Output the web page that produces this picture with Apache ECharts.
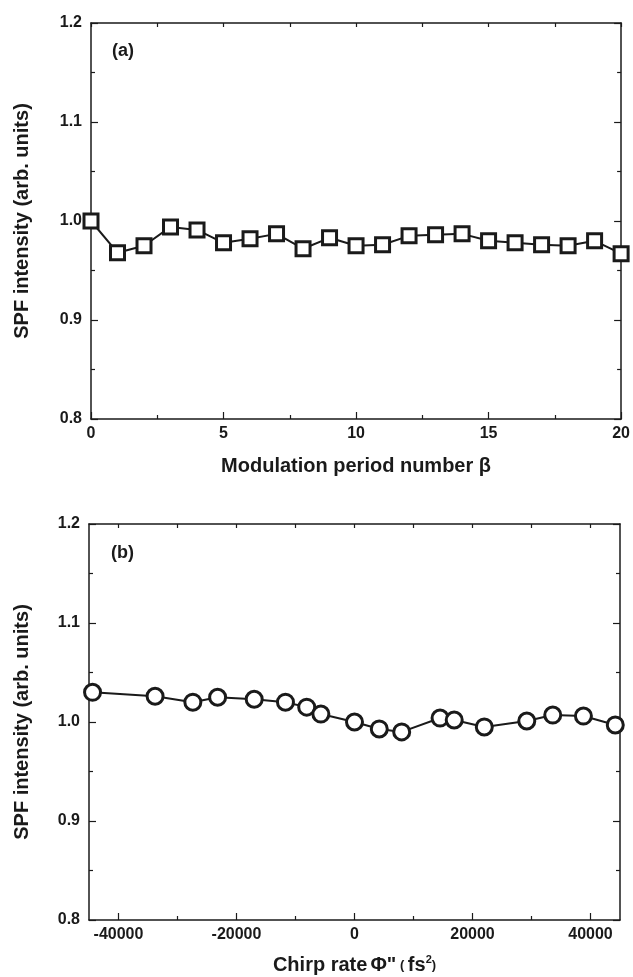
<!DOCTYPE html>
<html>
<head>
<meta charset="utf-8">
<script src="https://cdn.jsdelivr.net/npm/echarts@6/dist/echarts.min.js"></script>
<style>
  html, body { margin: 0; padding: 0; background: #fff; }
  #main { width: 633px; height: 977px; }
</style>
</head>
<body>
<div id="main"></div>
<script>
// panel (a): SPF vs modulation period number
const betaValues = [0, 1, 2, 3, 4, 5, 6, 7, 8, 9, 10, 11, 12, 13, 14, 15, 16, 17, 18, 19, 20];
const spfBeta = [1.000, 0.968, 0.975, 0.994, 0.991, 0.978, 0.982, 0.987, 0.972, 0.983, 0.975,
  0.976, 0.985, 0.986, 0.987, 0.980, 0.978, 0.976, 0.975, 0.980, 0.967];

// panel (b): SPF vs chirp rate
const chirpRates = [-44400, -33800, -27400, -23200, -17000, -11700, -8100, -5700, 0, 4200, 8000,
  14500, 16900, 22000, 29200, 33600, 38800, 44200];
const spfChirp = [1.030, 1.026, 1.020, 1.025, 1.023, 1.020, 1.015, 1.008, 1.000, 0.993, 0.990,
  1.004, 1.002, 0.995, 1.001, 1.007, 1.006, 0.997];

const chirpTicks = [-40000, -20000, 0, 20000, 40000];
const chirpMinorTicks = [-30000, -10000, 10000, 30000];

const FONT = 'Liberation Sans, Arial, sans-serif';
const INK = '#1a1a1a';

const chart = echarts.init(document.getElementById('main'));

function frameLine() {
  return { show: true, onZero: false, lineStyle: { color: INK, width: 1.5 } };
}
function labelStyle() {
  return { color: INK, fontFamily: FONT, fontWeight: 'bold', fontSize: 16 };
}
function titleStyle(size) {
  return { color: INK, fontFamily: FONT, fontWeight: 'bold', fontSize: size };
}
function yAxisFor(gridIndex, pos, gap) {
  return {
    type: 'value', gridIndex: gridIndex, position: pos,
    min: 0.8, max: 1.2, interval: 0.1,
    name: pos === 'left' ? 'SPF intensity (arb. units)' : '',
    nameLocation: 'middle', nameGap: gap,
    nameTextStyle: titleStyle(20),
    axisLine: frameLine(),
    axisTick: { show: true, inside: true, length: 7, lineStyle: { color: INK, width: 1.2 } },
    minorTick: { show: true, splitNumber: 2, length: 4, lineStyle: { color: INK, width: 1.2 } },
    axisLabel: Object.assign({ show: pos === 'left', margin: 9, formatter: v => v.toFixed(1) }, labelStyle()),
    splitLine: { show: false }
  };
}

const chirpName = '{t|Chirp rate}{p|Φ"}{s| ( }{t|fs}{sup|2}{s|)}';

chart.setOption({
  animation: false,
  backgroundColor: '#fff',
  title: [
    { text: '(a)', left: 107, top: 37, textStyle: titleStyle(18) },
    { text: '(b)', left: 106, top: 539, textStyle: titleStyle(18) }
  ],
  grid: [
    { left: 91, right: 11, top: 23, height: 396 },
    { left: 89, right: 13, top: 524, height: 396 }
  ],
  xAxis: [
    {
      type: 'value', gridIndex: 0, position: 'bottom',
      min: 0, max: 20, interval: 5,
      name: 'Modulation period number β', nameLocation: 'middle', nameGap: 37,
      nameTextStyle: titleStyle(20),
      axisLine: frameLine(),
      axisTick: { show: true, inside: true, length: 7, lineStyle: { color: INK, width: 1.2 } },
      minorTick: { show: true, splitNumber: 2, length: 4, lineStyle: { color: INK, width: 1.2 } },
      axisLabel: Object.assign({ margin: 7 }, labelStyle()),
      splitLine: { show: false }
    },
    {
      type: 'value', gridIndex: 0, position: 'top',
      min: 0, max: 20, interval: 5,
      axisLine: frameLine(),
      axisTick: { show: true, inside: true, length: 4, lineStyle: { color: INK, width: 1.2 } },
      minorTick: { show: true, splitNumber: 2, length: 4, lineStyle: { color: INK, width: 1.2 } },
      axisLabel: { show: false },
      splitLine: { show: false }
    },
    {
      type: 'value', gridIndex: 1, position: 'bottom',
      min: -45000, max: 45000,
      name: chirpName, nameLocation: 'middle', nameGap: 34,
      nameTextStyle: {
        color: INK, fontFamily: FONT, fontWeight: 'bold', fontSize: 20,
        rich: {
          t: titleStyle(20),
          p: Object.assign(titleStyle(20), { padding: [0, 0, 0, 3] }),
          s: titleStyle(13),
          sup: Object.assign(titleStyle(11), { verticalAlign: 'bottom', padding: [0, 0, 12, 0] })
        }
      },
      axisLine: frameLine(),
      axisTick: { show: true, inside: true, length: 7, customValues: chirpTicks, lineStyle: { color: INK, width: 1.2 } },
      axisLabel: Object.assign({ margin: 7, customValues: chirpTicks, formatter: v => String(v) }, labelStyle()),
      splitLine: { show: false }
    },
    {
      type: 'value', gridIndex: 1, position: 'top',
      min: -45000, max: 45000,
      axisLine: frameLine(),
      axisTick: { show: true, inside: true, length: 4, customValues: chirpTicks.concat(chirpMinorTicks), lineStyle: { color: INK, width: 1.2 } },
      axisLabel: { show: false },
      splitLine: { show: false }
    },
    {
      type: 'value', gridIndex: 1, position: 'bottom',
      min: -45000, max: 45000,
      axisLine: { show: false },
      axisTick: { show: true, inside: true, length: 4, customValues: chirpMinorTicks, lineStyle: { color: INK, width: 1.2 } },
      axisLabel: { show: false },
      splitLine: { show: false }
    }
  ],
  yAxis: [
    yAxisFor(0, 'left', 59),
    yAxisFor(0, 'right', 0),
    yAxisFor(1, 'left', 57),
    yAxisFor(1, 'right', 0)
  ],
  series: [
    {
      type: 'line', xAxisIndex: 0, yAxisIndex: 0,
      data: betaValues.map((b, i) => [b, spfBeta[i]]),
      symbol: 'rect', symbolSize: 14, showAllSymbol: true,
      lineStyle: { color: INK, width: 2 },
      itemStyle: { color: '#fff', borderColor: INK, borderWidth: 3 }
    },
    {
      type: 'line', xAxisIndex: 2, yAxisIndex: 2,
      data: chirpRates.map((c, i) => [c, spfChirp[i]]),
      symbol: 'circle', symbolSize: 16, showAllSymbol: true,
      lineStyle: { color: INK, width: 2 },
      itemStyle: { color: '#fff', borderColor: INK, borderWidth: 3 }
    }
  ]
});
</script>
</body>
</html>
